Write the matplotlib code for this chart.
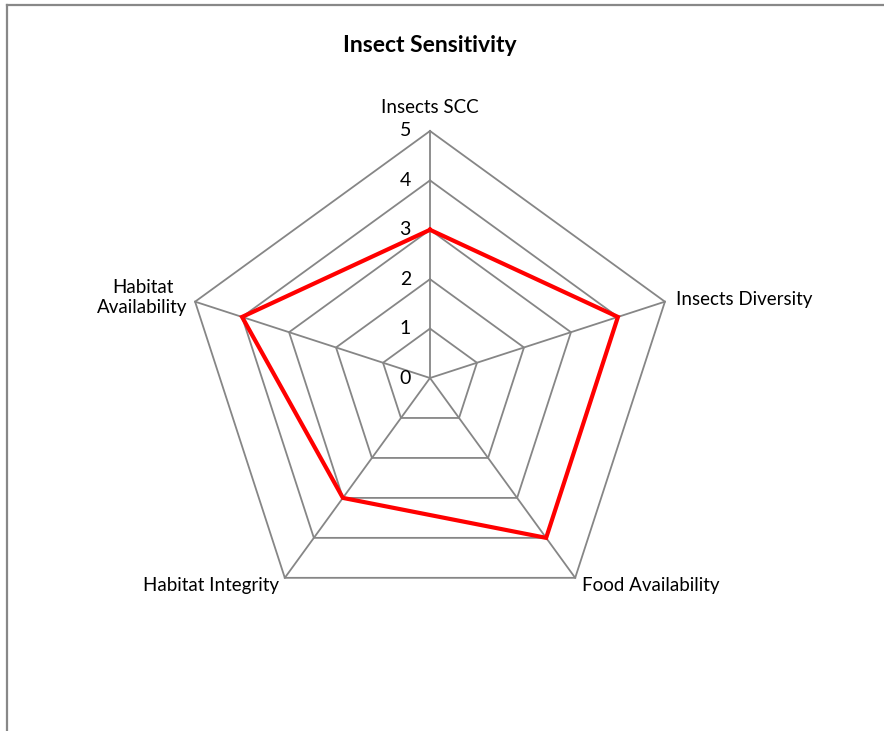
import numpy as np
import matplotlib
matplotlib.use("Agg")
import matplotlib.pyplot as plt
from matplotlib.lines import Line2D

plt.rcParams['font.family'] = ['Lato', 'DejaVu Sans']

categories = ["Insects SCC", "Insects Diversity", "Food Availability",
              "Habitat Integrity", "Habitat\nAvailability"]
values = [3, 4, 4, 3, 4]
ticks = [0, 1, 2, 3, 4, 5]
title = "Insect Sensitivity"

W, H = 884, 731
fig = plt.figure(figsize=(W / 100, H / 100), dpi=100)
ax = fig.add_axes([0, 0, 1, 1])
ax.set_axis_off()

cx, cy, unit = 430, 378, 49.4
ax.set_xlim(-cx / unit, (W - cx) / unit)
ax.set_ylim(-(H - cy) / unit, cy / unit)

n = len(categories)
ang = np.pi / 2 - np.arange(n) * 2 * np.pi / n
ux, uy = np.cos(ang), np.sin(ang)

grid_col = "#868686"
rmax = ticks[-1]
for t in ticks[1:]:
    xs = np.append(ux * t, ux[0] * t)
    ys = np.append(uy * t, uy[0] * t)
    ax.plot(xs, ys, color=grid_col, lw=1.3, solid_joinstyle='miter')
for i in range(n):
    ax.plot([0, ux[i] * rmax], [0, uy[i] * rmax], color=grid_col, lw=1.3)

v = np.array(values, dtype=float)
ax.plot(np.append(ux * v, ux[0] * v[0]), np.append(uy * v, uy[0] * v[0]),
        color="#FF0000", lw=3.0, solid_joinstyle='miter')

for t in ticks:
    ax.text(-0.5, t, str(t), ha='center', va='center', fontsize=14, color="#000000")

fs = 13.5
# label placement
ax.text(0, rmax + 0.3, categories[0], ha='center', va='bottom', fontsize=fs)
ax.text(ux[1] * rmax + 0.22, uy[1] * rmax + 0.04, categories[1], ha='left', va='center', fontsize=fs)
ax.text(ux[2] * rmax + 0.14, uy[2] * rmax - 0.16, categories[2], ha='left', va='center', fontsize=fs)
ax.text(ux[3] * rmax - 0.12, uy[3] * rmax - 0.16, categories[3], ha='right', va='center', fontsize=fs)
ax.text(ux[4] * rmax - 0.15, uy[4] * rmax + 0.08, categories[4], ha='right', va='center',
        multialignment='center', fontsize=fs, linespacing=1.25)

ax.text(0, (cy - 45) / unit, title, ha='center', va='center', fontsize=16.5, fontweight='bold')

# chart frame
fig.add_artist(Line2D([6.5 / W, 6.5 / W], [0, 1 - 4.5 / H], transform=fig.transFigure,
                      color="#888888", lw=1.6))
fig.add_artist(Line2D([6.5 / W, 1], [1 - 4.5 / H, 1 - 4.5 / H], transform=fig.transFigure,
                      color="#888888", lw=1.6))

fig.savefig("out.png", dpi=100)
